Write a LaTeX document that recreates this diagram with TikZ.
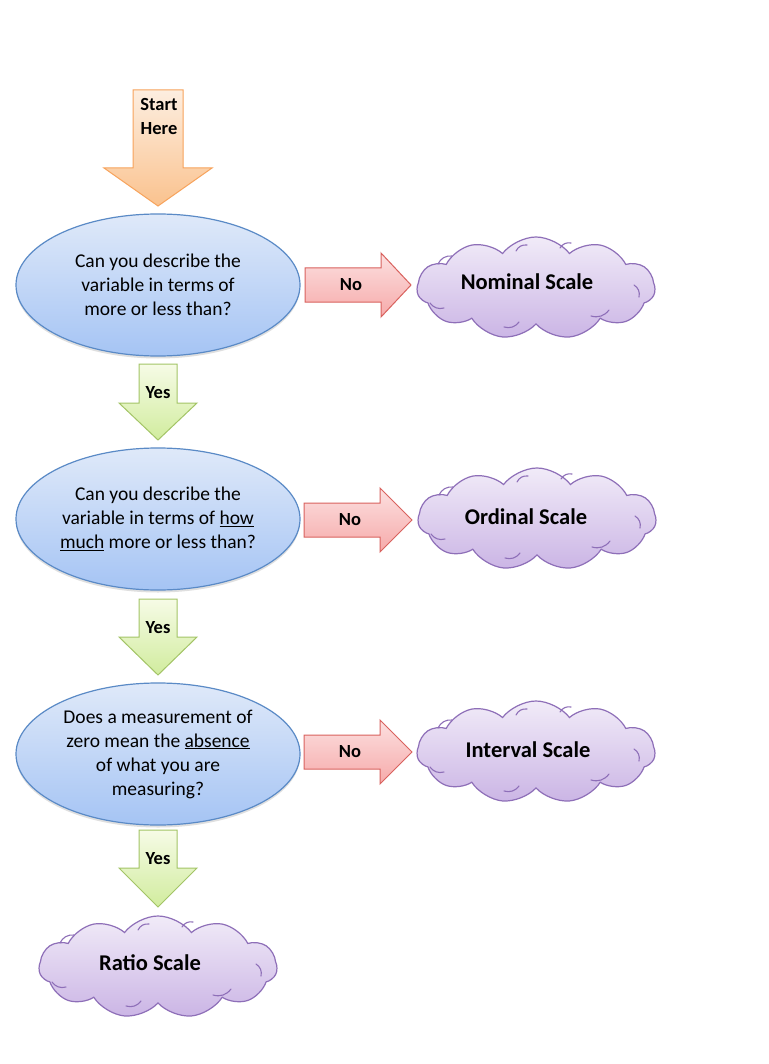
\documentclass[tikz,border=0pt]{standalone}
\usepackage{fontspec}
\setmainfont{Carlito}
\usetikzlibrary{shapes.geometric,shapes.symbols,shadows}
\definecolor{elTop}{HTML}{DFE9F9}
\definecolor{elBot}{HTML}{A5C4F4}
\definecolor{elLine}{HTML}{5A8AC6}
\definecolor{clTop}{HTML}{F1EBF8}
\definecolor{clBot}{HTML}{CBB5E5}
\definecolor{clLine}{HTML}{8E6FB8}
\definecolor{noTop}{HTML}{FCE0E0}
\definecolor{noBot}{HTML}{F6AAAA}
\definecolor{noLine}{HTML}{D9625E}
\definecolor{yesTop}{HTML}{F6FBE6}
\definecolor{yesBot}{HTML}{D1EC9E}
\definecolor{yesLine}{HTML}{A3C466}
\definecolor{stTop}{HTML}{FDEEE0}
\definecolor{stBot}{HTML}{FAC28E}
\definecolor{stLine}{HTML}{F7A35C}
\newcommand{\myDownArr}[7]{%
  \path[#1] (#2-#3,#4) -- (#2+#3,#4) -- (#2+#3,#5) -- (#2+#6,#5) -- (#2,#7)
    -- (#2-#6,#5) -- (#2-#3,#5) -- cycle;}
\newcommand{\myRightArr}[7]{%
  \path[#1] (#4,#2-#3) -- (#4,#2+#3) -- (#5,#2+#3) -- (#5,#2+#6) -- (#7,#2)
    -- (#5,#2-#6) -- (#5,#2-#3) -- cycle;}
\newcommand{\myCloudArcs}[1]{%
  \draw[cloudarc] ([shift={(-98,-24)}]#1.center) to[bend left=35] ([shift={(-84,-32)}]#1.center);
  \draw[cloudarc] ([shift={(-20,-37)}]#1.center) to[bend left=35] ([shift={(-9,-43)}]#1.center);
  \draw[cloudarc] ([shift={(24,-40)}]#1.center) to[bend left=35] ([shift={(35,-45)}]#1.center);
  \draw[cloudarc] ([shift={(98,-3)}]#1.center) to[bend left=35] ([shift={(103,9)}]#1.center);
  \draw[cloudarc] ([shift={(55,28)}]#1.center) to[bend right=35] ([shift={(73,22)}]#1.center);
  \draw[cloudarc] ([shift={(-32,39)}]#1.center) to[bend right=35] ([shift={(-17,34)}]#1.center);
  \draw[cloudarc] ([shift={(-106,15)}]#1.center) to[bend right=35] ([shift={(-92,20)}]#1.center);
}
\tikzset{
  question/.style={ellipse, draw=elLine, line width=1.2pt, top color=elTop, bottom color=elBot,
    minimum width=284pt, minimum height=142pt, inner sep=0pt, align=center,
    font=\fontsize{19.5}{24}\selectfont,
    drop shadow={opacity=0.25, shadow xshift=0pt, shadow yshift=-2.5pt}},
  scalecloud/.style={cloud, cloud puffs=11, cloud puff arc=105, aspect=2.3,
    draw=clLine, line width=1.2pt, top color=clTop, bottom color=clBot,
    minimum width=238pt, minimum height=102pt, inner sep=0pt},
  cloudarc/.style={draw=clLine, line width=1.1pt, line cap=round},
  cloudtext/.style={font=\fontsize{22.5}{27}\selectfont\bfseries},
  arrtext/.style={font=\fontsize{18.5}{24}\selectfont\bfseries, align=center},
  noarr/.style={draw=noLine, line width=1pt, top color=noTop, bottom color=noBot, line join=miter},
  yesarr/.style={draw=yesLine, line width=1pt, top color=yesTop, bottom color=yesBot, line join=miter},
  startarr/.style={draw=stLine, line width=1pt, top color=stTop, bottom color=stBot, line join=miter}
}
\begin{document}
\begin{tikzpicture}[x=1pt,y=-1pt]
\fill[white] (0,0) rectangle (768,1064);
\useasboundingbox (0,0) rectangle (768,1064);

% start arrow
\myDownArr{startarr}{158}{25}{90}{168}{54}{206}
\node[arrtext] (start) at (159,117) {Start\\Here};

% questions
\node[question] (q1) at (158,285) {Can you describe the\\variable in terms of\\more or less than?};
\node[question] (q2) at (158,519) {Can you describe the\\variable in terms of \underline{how}\\\underline{much} more or less than?};
\node[question] (q3) at (158,754) {Does a measurement of\\zero mean the \underline{absence}\\of what you are\\measuring?};

% No arrows
\myRightArr{noarr}{285}{17}{305}{381}{32}{411}
\node[arrtext] (no1) at (351,285) {No};
\myRightArr{noarr}{520}{17}{304}{380}{32}{412}
\node[arrtext] (no2) at (350,520) {No};
\myRightArr{noarr}{752}{17}{304}{380}{32}{412}
\node[arrtext] (no3) at (350,752) {No};

% Yes arrows
\myDownArr{yesarr}{158}{19}{364}{403}{39}{440}
\node[arrtext] (yes1) at (158,393) {Yes};
\myDownArr{yesarr}{158}{19}{599}{637}{39}{675}
\node[arrtext] (yes2) at (158,628) {Yes};
\myDownArr{yesarr}{158}{19}{830}{868}{39}{907}
\node[arrtext] (yes3) at (158,859) {Yes};

% clouds
\node[scalecloud] (c1) at (536,288) {};
\myCloudArcs{c1}
\node[cloudtext] (t1) at (527,282) {Nominal Scale};
\node[scalecloud] (c2) at (537,519) {};
\myCloudArcs{c2}
\node[cloudtext] (t2) at (526,517) {Ordinal Scale};
\node[scalecloud] (c3) at (536,752) {};
\myCloudArcs{c3}
\node[cloudtext] (t3) at (528,750) {Interval Scale};
\node[scalecloud] (c4) at (158,967) {};
\myCloudArcs{c4}
\node[cloudtext] (t4) at (150,963) {Ratio Scale};
\end{tikzpicture}
\end{document}
